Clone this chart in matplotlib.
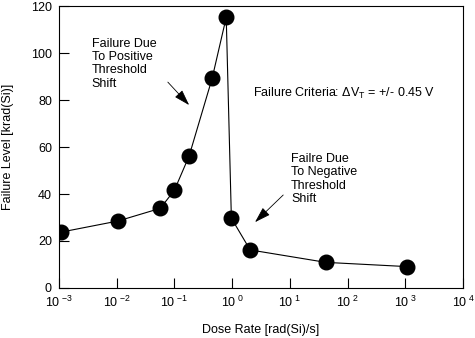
import math
import matplotlib
matplotlib.use("Agg")
import matplotlib.pyplot as plt
from matplotlib.ticker import FixedLocator, FuncFormatter, NullLocator

plt.rcParams['font.family'] = ['Liberation Sans', 'DejaVu Sans']
plt.rcParams['mathtext.default'] = 'regular'

# dose rate [rad(Si)/s] and failure level [krad(Si)]
dose_rate = [1.1e-3, 1.05e-2, 0.057, 0.1, 0.18, 0.45, 0.79, 0.97, 2.05, 42, 1070]
failure_level = [23.8, 28.5, 33.9, 41.6, 56.2, 89.2, 115.2, 29.7, 16.2, 10.9, 9.1]

x_ticks = [1e-3, 1e-2, 1e-1, 1e0, 1e1, 1e2, 1e3, 1e4]
y_ticks = [0, 20, 40, 60, 80, 100, 120]

fig = plt.figure(figsize=(4.75, 3.38), dpi=100)
ax = fig.add_axes([0.124, 0.148, 0.851, 0.834])

ax.plot(dose_rate, failure_level, color='black', lw=0.8,
        marker='o', markersize=10.5, markerfacecolor='black', markeredgecolor='black')

ax.set_xscale('log')
ax.set_xlim(1e-3, 1e4)
ax.set_ylim(0, 120)
ax.xaxis.set_major_locator(FixedLocator(x_ticks))
ax.xaxis.set_minor_locator(NullLocator())
ax.xaxis.set_major_formatter(FuncFormatter(
    lambda v, p: r'10$^{\;\mathregular{%d}}$' % round(math.log10(v))))
ax.set_yticks(y_ticks)

ax.tick_params(direction='in', length=7, width=0.8, labelsize=9, pad=5)
for s in ax.spines.values():
    s.set_linewidth(0.8)

ax.set_xlabel('Dose Rate [rad(Si)/s]', fontsize=9, labelpad=10)
ax.set_ylabel('Failure Level [krad(Si)]', fontsize=9, labelpad=12)

head = '-|>,head_length=0.7,head_width=0.22'

# annotations
ax.text(0.0037, 106.5, 'Failure Due\nTo Positive\nThreshold\nShift',
        fontsize=9, va='top', ha='left', linespacing=1.15)
ax.annotate('', xy=(0.194, 77), xytext=(0.0714, 88.5),
            arrowprops=dict(arrowstyle=head, color='black', lw=0.6, mutation_scale=14))

ax.text(2.3, 83, r'Failure Criteria: $\Delta V_T$ = +/- 0.45 V',
        fontsize=9, va='center', ha='left')

ax.text(10.5, 57.5, 'Failre Due\nTo Negative\nThreshold\nShift',
        fontsize=9, va='top', ha='left', linespacing=1.15)
ax.annotate('', xy=(2.3, 27.2), xytext=(8.3, 40.4),
            arrowprops=dict(arrowstyle=head, color='black', lw=0.6, mutation_scale=14))

fig.savefig('out.png', dpi=100)
